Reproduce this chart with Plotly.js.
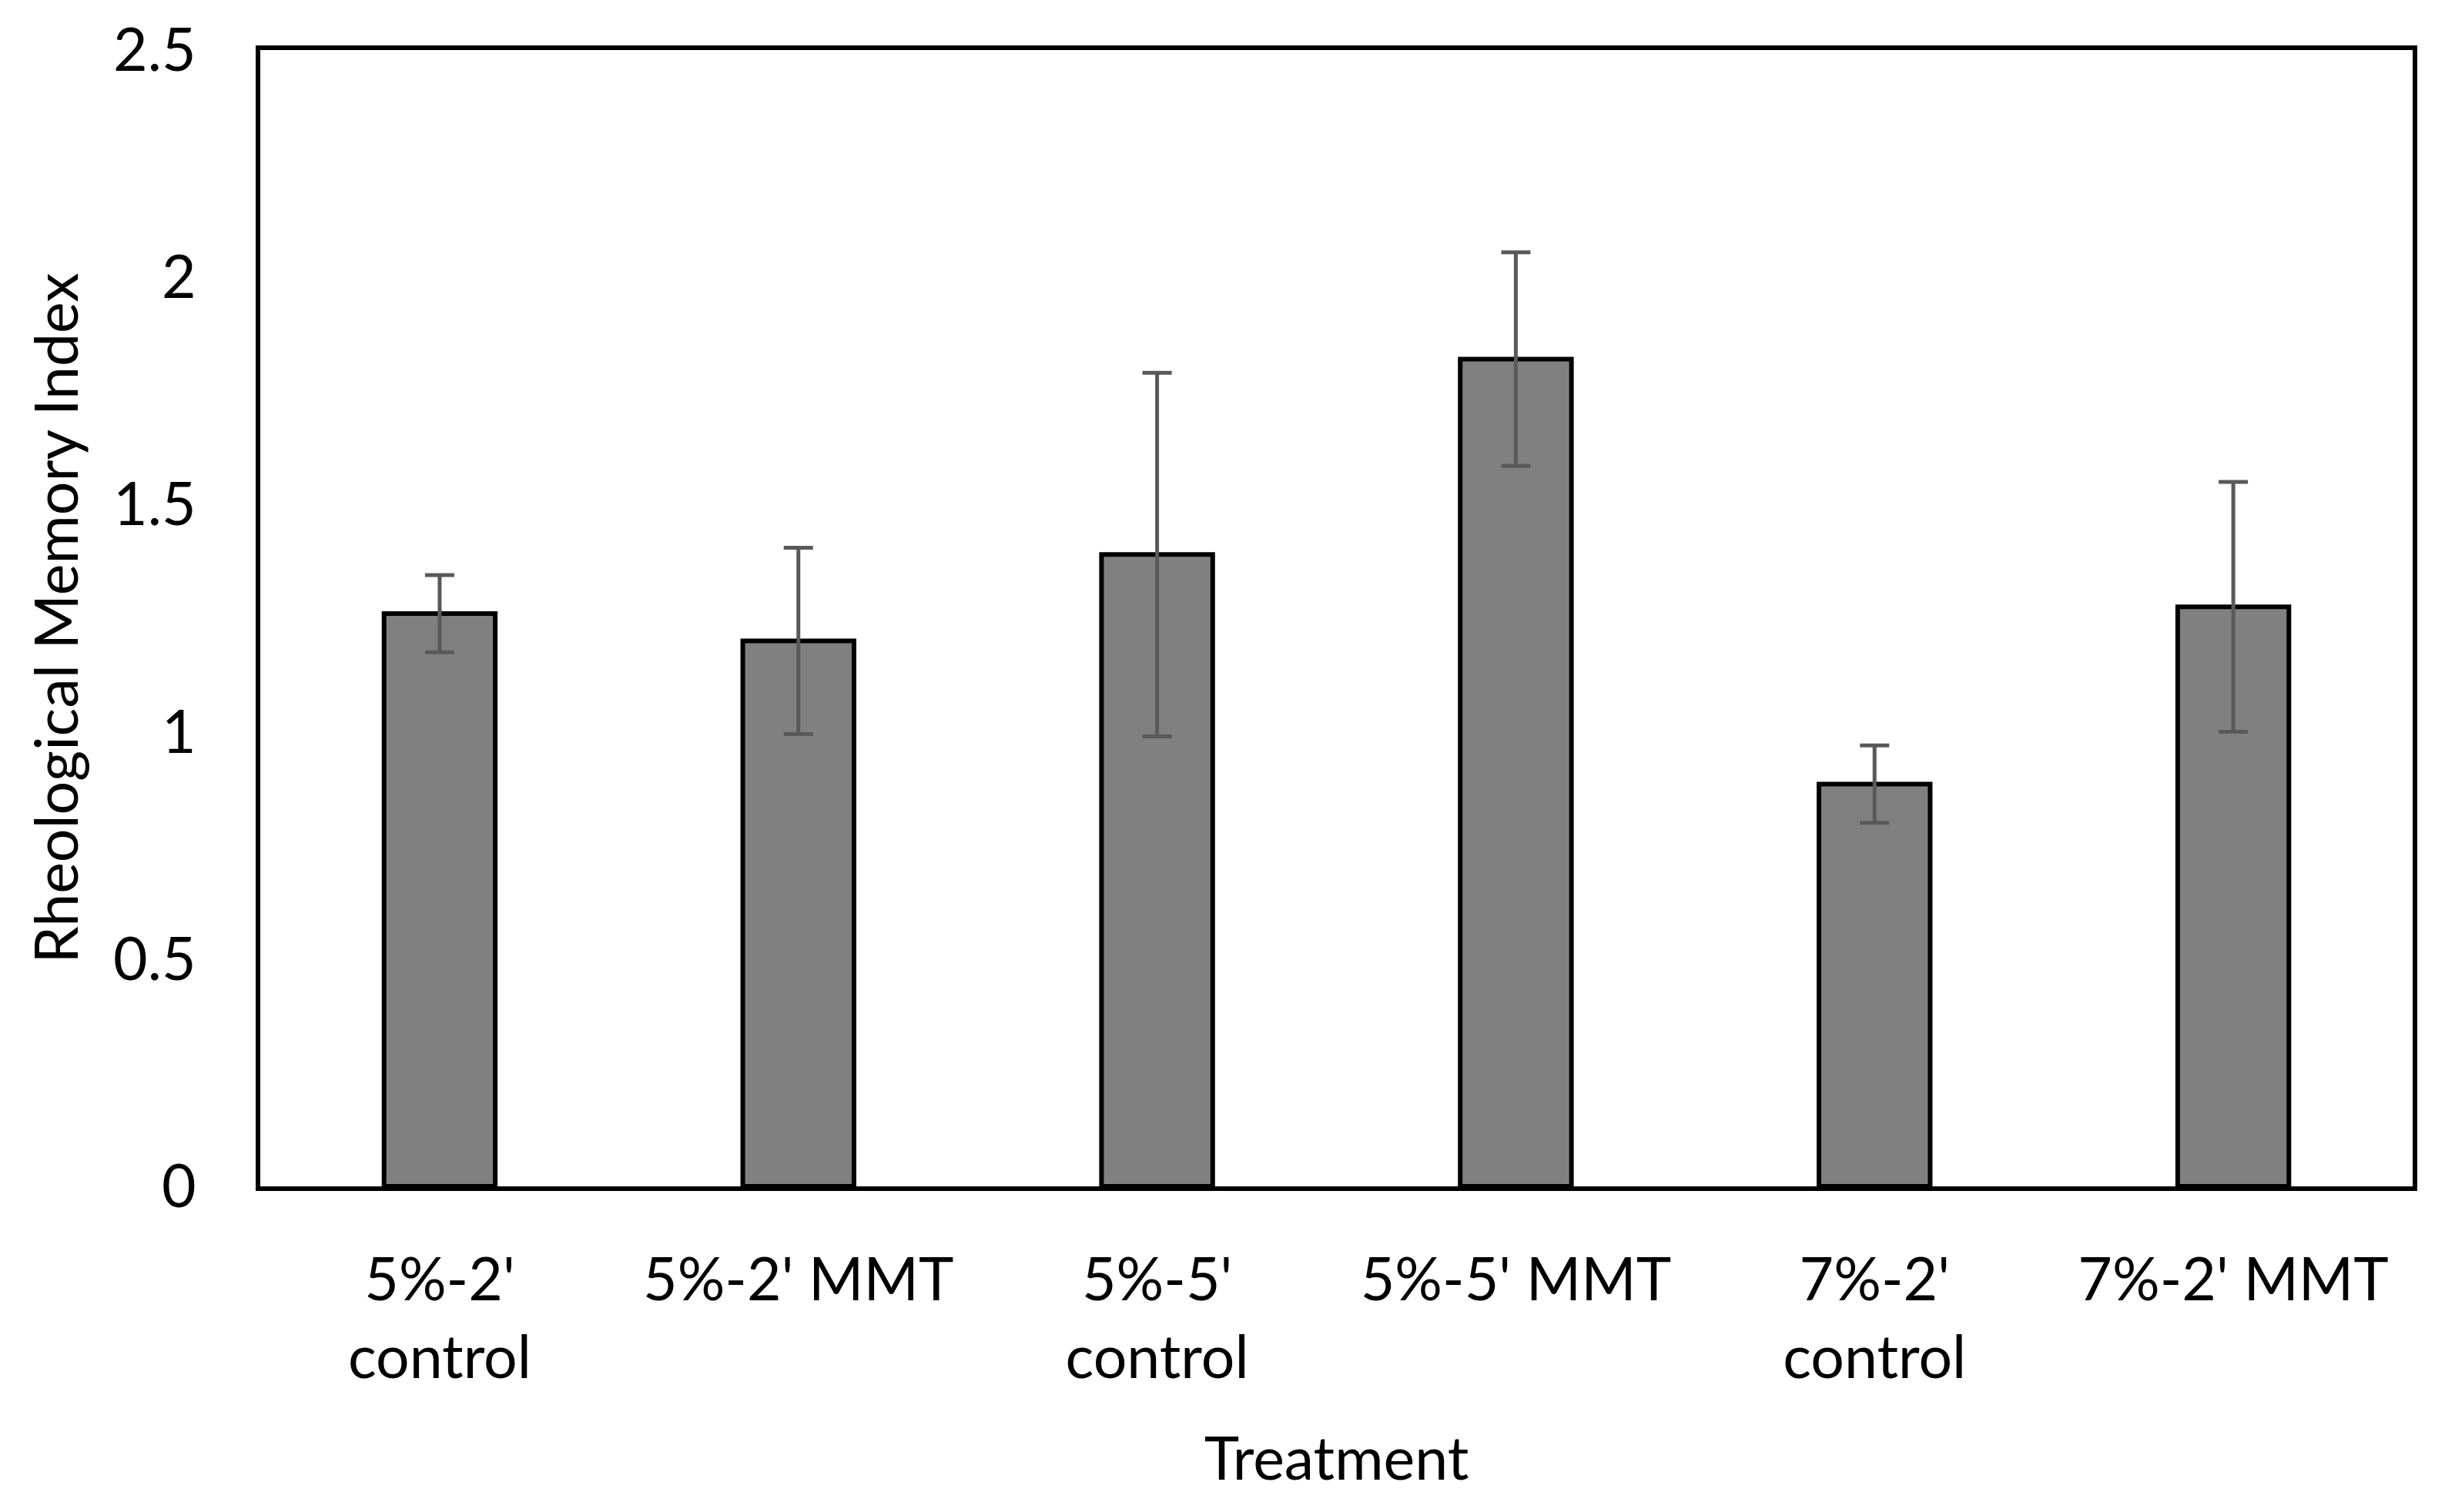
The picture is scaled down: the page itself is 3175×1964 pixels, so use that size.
<!DOCTYPE html>
<html>
<head>
<meta charset="utf-8">
<script src="https://cdn.plot.ly/plotly-3.0.1.min.js"></script>
<style>html,body{margin:0;padding:0;background:#fff;}#chart{width:3175px;height:1964px;}</style>
</head>
<body>
<div id="chart"></div>
<script>
var categories = ["5%-2'<br>control", "5%-2' MMT", "5%-5'<br>control", "5%-5' MMT", "7%-2'<br>control", "7%-2' MMT"];
var memoryIndex = [1.26, 1.20, 1.39, 1.82, 0.885, 1.275];
var errorValues = [0.085, 0.205, 0.40, 0.235, 0.085, 0.275];
var yTickValues = [0, 0.5, 1, 1.5, 2, 2.5];
var yTickLabels = ["0", "0.5", "1", "1.5", "2", "2.5"];

var FONT = "Lato, Carlito, Calibri, 'Liberation Sans', sans-serif";

var trace = {
  type: "bar",
  x: categories,
  y: memoryIndex,
  width: 0.31,
  marker: { color: "#808080", line: { color: "#000000", width: 6 } },
  error_y: { type: "data", array: errorValues, visible: true, color: "#595959", thickness: 5, width: 19 },
  hoverinfo: "x+y"
};

var layout = {
  width: 3175,
  height: 1964,
  margin: { l: 338, r: 42, t: 65, b: 423 },
  paper_bgcolor: "#ffffff",
  plot_bgcolor: "#ffffff",
  showlegend: false,
  font: { family: FONT, size: 77, color: "#000000" },
  xaxis: {
    type: "category",
    showline: true, linecolor: "#000000", linewidth: 6, mirror: true,
    showgrid: false, zeroline: false, ticks: "",
    ticklabelstandoff: 50,
    tickfont: { family: FONT, size: 77, color: "#000000" },
    title: { text: "Treatment", font: { family: FONT, size: 77, color: "#000000" }, standoff: 66 }
  },
  yaxis: {
    range: [0, 2.5],
    tickmode: "array", tickvals: yTickValues, ticktext: yTickLabels,
    showline: true, linecolor: "#000000", linewidth: 6, mirror: true,
    showgrid: false, zeroline: false, ticks: "",
    ticklabelstandoff: 62,
    tickfont: { family: FONT, size: 77, color: "#000000" },
    title: { text: "Rheological Memory Index", font: { family: FONT, size: 77, color: "#000000" }, standoff: 22 }
  },
  bargap: 0.69
};

Plotly.newPlot("chart", [trace], layout, { displayModeBar: false, staticPlot: true });
</script>
</body>
</html>
